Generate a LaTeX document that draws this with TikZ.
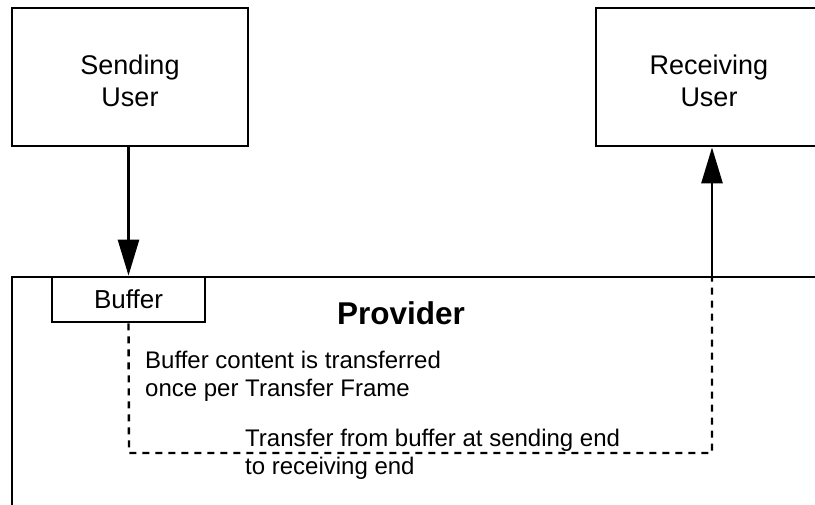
\documentclass[tikz,border=0pt]{standalone}
\usepackage{fontspec}
\setmainfont{Liberation Sans}
\usetikzlibrary{arrows.meta}
\begin{document}
\begin{tikzpicture}[x=1pt,y=-1pt,
  boxline/.style={draw=black,line width=2.8pt},
  userbox/.style={boxline,rectangle,inner sep=0pt,align=center,
     text height=59pt,font=\fontsize{27}{32}\selectfont},
  bufbox/.style={boxline,rectangle,inner sep=0pt,fill=white,
     font=\fontsize{26}{30}\selectfont},
  conn/.style={line width=2.8pt,-{Triangle[length=36pt,width=21pt]}},
  dashline/.style={line width=2.4pt,dash pattern=on 7pt off 6pt},
  note/.style={inner sep=0pt,align=left,anchor=base west,
     font=\fontsize{24}{28}\selectfont}]
\useasboundingbox (0,0) rectangle (815,505);
% provider container (clipped at right and bottom)
\coordinate (pbl) at (12,530);
\coordinate (ptl) at (12,277);
\coordinate (ptr) at (840,277);
\draw[boxline] (pbl) -- (ptl) -- (ptr);
% users
\node[userbox,minimum width=236pt,minimum height=138pt] (send) at (130,77) {Sending\\User};
\node[userbox,minimum width=226pt,minimum height=138pt] (recv) at (709,77) {Receiving\\User};
% buffer
\node[bufbox,minimum width=153pt,minimum height=45pt] (buf) at (128.5,299.5) {Buffer};
% provider label
\node[inner sep=0pt,anchor=base,font=\fontsize{31.5}{32}\selectfont\bfseries] (prov) at (401,325) {Provider};
% notes (base anchor = baseline of last line)
\node[note] (n1) at (145,396) {Buffer content is transferred\\once per Transfer Frame};
\node[note] (n2) at (245,474) {Transfer from buffer at sending end\\to receiving end};
% connectors
\coordinate (out) at (712,277);
\coordinate (c1) at (129,453);
\coordinate (c2) at (712,453);
\draw[conn] (send.south -| buf.north) -- (buf.north);
\draw[conn] (out) -- (out |- recv.south);
\draw[dashline] (buf.south) -- (c1) -- (c2) -- (out);
\end{tikzpicture}
\end{document}
